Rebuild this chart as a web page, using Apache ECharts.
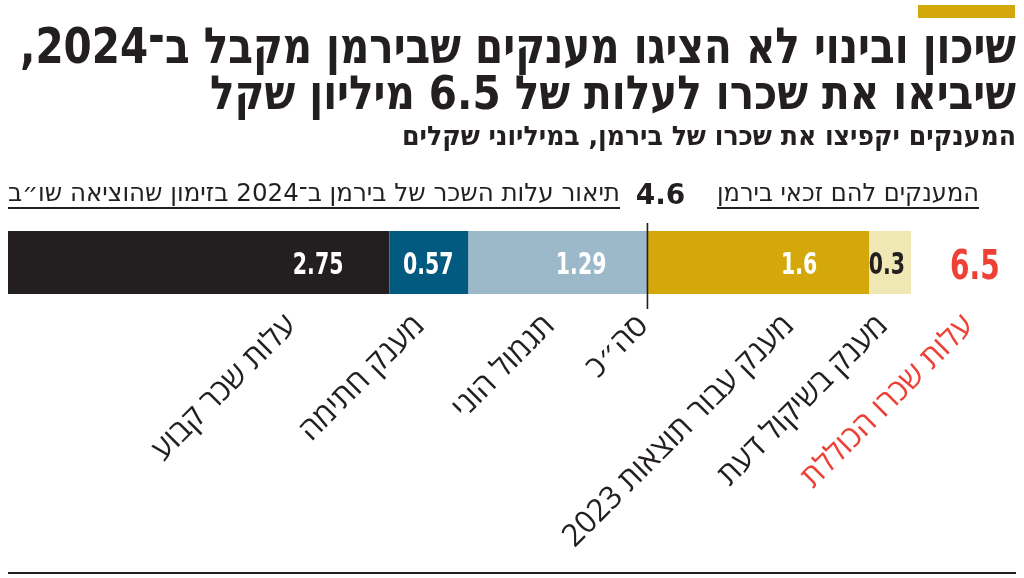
<!DOCTYPE html>
<html><head><meta charset="utf-8">
<script src="https://cdn.jsdelivr.net/npm/echarts@6/dist/echarts.min.js"></script>
<style>html,body{margin:0;padding:0;background:#fff}#c{width:1024px;height:578px}</style>
</head><body><div id="c"></div>
<script>
// ---------- data ----------
const titleLines = ['שיכון ובינוי לא הציגו מענקים שבירמן מקבל ב־2024,', 'שיביאו את שכרו לעלות של 6.5 מיליון שקל'];
const subtitle = 'המענקים יקפיצו את שכרו של בירמן, במיליוני שקלים';
const headerLeft = 'תיאור עלות השכר של בירמן ב־2024 בזימון שהוציאה שו״ב';
const headerRight = 'המענקים להם זכאי בירמן';
const segmentNames = ['עלות שכר קבוע', 'מענק חתימה', 'תגמול הוני', 'מענק עבור תוצאות 2023', 'מענק בשיקול דעת'];
const segmentValues = [2.75, 0.57, 1.29, 1.6, 0.3];
const subtotalName = 'סה״כ';
const subtotalValue = 4.6;
const subtotalCount = 3;
const totalName = 'עלות שכרו הכוללת';
const totalValue = 6.5;

// ---------- style ----------
const INK = '#231f20';
const colors = ['#231f20', '#025a80', '#9bb9c9', '#d4a80b', '#efe8b5'];
const valueLabelColors = ['#fff', '#fff', '#fff', '#fff', INK];
const valueLabelDist = [46, 15, 41, 52, 6];
const nameShift = [97, -5, -4, 35, -3];
const RED = '#ee4035';
const numFont = "'DejaVu Sans Condensed', 'DejaVu Sans', sans-serif";
const hebFont = "'DejaVu Sans Condensed', 'DejaVu Sans', sans-serif";
const labelFont = "'Open Sans', 'DejaVu Sans', sans-serif";
const rtl = s => '\u202B' + s + '\u202C';

const chart = echarts.init(document.getElementById('c'), null, {renderer: 'canvas'});
const axisMax = segmentValues.reduce((a, b) => a + b, 0);

const series = segmentValues.map((v, i) => ({
  type: 'bar', stack: 'all', name: segmentNames[i],
  data: [v], barCategoryGap: '0%', silent: true,
  itemStyle: {color: colors[i]},
  label: {show: false}
}));

chart.setOption({
  animation: false,
  grid: {left: 8, right: 113, top: 231, height: 63},
  xAxis: {type: 'value', min: 0, max: axisMax, show: false},
  yAxis: {type: 'category', data: [''], show: false},
  series: series
});

// ---------- texts placed via the axis scale ----------
const meas = document.createElement('canvas').getContext('2d');
function natW(text, font) { meas.font = font; return meas.measureText(text).width; }
function px(v) { return chart.convertToPixel({gridIndex: 0}, [v, 0])[0]; }

const g = [];
function txt(text, font, x, y, opts) {
  opts = opts || {};
  let sx = 1;
  if (opts.width) sx = opts.width / natW(text, font);
  if (opts.scaleX) sx = opts.scaleX;
  g.push({
    type: 'text', x: x, y: y, silent: true, z: 10,
    scaleX: sx,
    rotation: opts.rotation || 0,
    style: {
      text: rtl(text), font: font, fill: opts.color || INK,
      align: opts.align || 'right', textAlign: opts.align || 'right',
      verticalAlign: opts.valign || 'middle', textVerticalAlign: opts.valign || 'middle'
    }
  });
}
function line(x1, y1, x2, y2, w) {
  g.push({type: 'line', silent: true, z: 10, shape: {x1, y1, x2, y2}, style: {stroke: INK, lineWidth: w}});
}

// top accent
g.push({type: 'rect', silent: true, shape: {x: 918, y: 5, width: 97, height: 13}, style: {fill: '#d4a80b'}});
// titles
txt(titleLines[0], 'bold 50px ' + hebFont, 1016, 50, {width: 996});
txt(titleLines[1], 'bold 47px ' + hebFont, 1016, 97, {width: 806});
txt(subtitle, 'bold 27px ' + hebFont, 1016, 138, {width: 614});
// headers
txt(headerLeft, '25px ' + hebFont, 620, 194, {width: 612});
line(8, 208, 620, 208, 2);
txt(headerRight, '25px ' + hebFont, 979, 194, {width: 262});
line(717, 208, 979, 208, 2);

// segment positions
let cum = 0;
const mids = [], ends = [];
segmentValues.forEach(v => { mids.push(cum + v / 2); cum += v; ends.push(cum); });
const subtotalPos = segmentValues.slice(0, subtotalCount).reduce((a, b) => a + b, 0);
const xSub = px(subtotalPos);
const xTot = px(axisMax);

// value labels inside the bar
segmentValues.forEach((v, i) => {
  txt(String(v), 'bold 30px ' + numFont, px(ends[i]) - valueLabelDist[i], 266,
      {scaleX: 0.76, color: valueLabelColors[i]});
});

// subtotal marker
line(xSub, 223, xSub, 309, 1.6);
txt(subtotalValue.toFixed(1), 'bold 28px "DejaVu Sans", sans-serif', xSub + 13, 197, {align: 'center'});
// total value
txt(totalValue.toFixed(1), 'bold 41px ' + numFont, xTot + 39, 268, {align: 'left', color: RED, scaleX: 0.76});

// rotated names
const ROT = Math.PI / 4;
const NAME_FONT = '31px ' + labelFont;
const AX = -15, AY = 310;
segmentNames.forEach((n, i) => {
  txt(n, NAME_FONT, px(mids[i]) + nameShift[i] + AX, AY, {rotation: ROT, valign: 'top'});
});
txt(subtotalName, NAME_FONT, xSub + AX, AY, {rotation: ROT, valign: 'top'});
txt(totalName, NAME_FONT, xTot + 62 + AX, AY, {rotation: ROT, valign: 'top', color: RED});

// bottom rule
line(8, 573, 1016, 573, 2);

chart.setOption({graphic: {elements: g}});
</script></body></html>
